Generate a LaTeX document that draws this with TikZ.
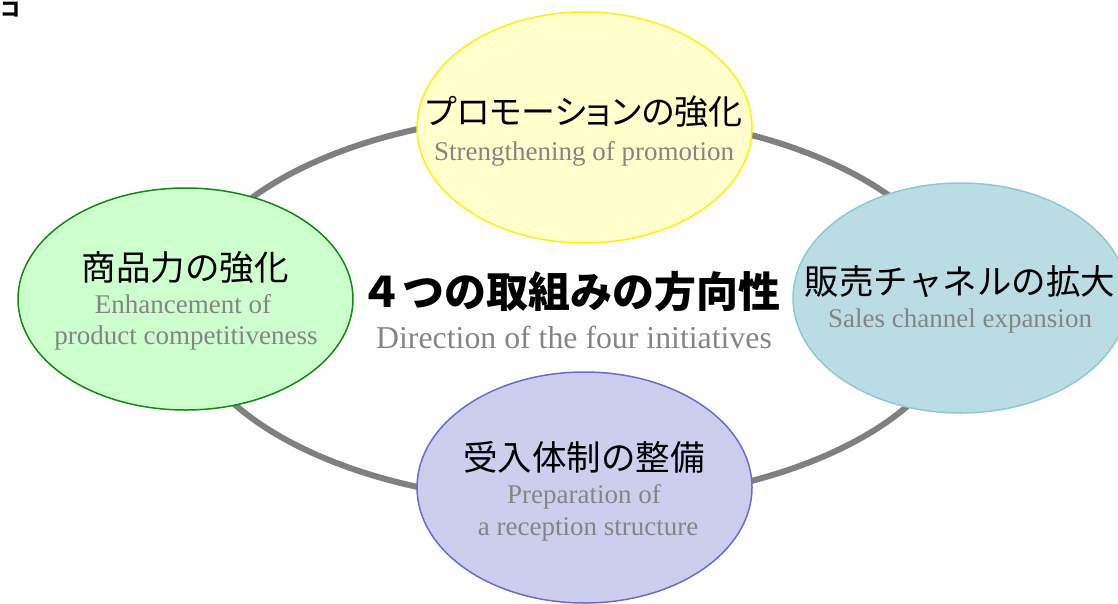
\documentclass[tikz,border=0pt]{standalone}
\usepackage{fontspec}
\usetikzlibrary{shapes.geometric}
\setmainfont{Liberation Serif}
\newfontfamily\jp{Noto Sans CJK JP}
\newfontfamily\jpp[RawFeature=+palt]{Noto Sans CJK JP}
\definecolor{ringgray}{HTML}{808080}
\definecolor{engray}{HTML}{858585}
\definecolor{yfill}{HTML}{FFFFCC}
\definecolor{yline}{HTML}{FFF200}
\definecolor{gfill}{HTML}{CCFFCC}
\definecolor{gline}{HTML}{108A10}
\definecolor{tfill}{HTML}{B9DDE2}
\definecolor{tline}{HTML}{8DCAD0}
\definecolor{lfill}{HTML}{CDCDEE}
\definecolor{lline}{HTML}{6B6BD0}
\begin{document}
\begin{tikzpicture}[x=1pt,y=-1pt,
  blob/.style={ellipse, inner sep=0pt, line width=1.5pt, minimum width=335pt},
  jptext/.style={font=\jp\fontsize{34.5}{40}\selectfont, text=black, inner sep=0pt},
  entext/.style={font=\fontsize{27}{31}\selectfont, text=engray, inner sep=0pt, anchor=base},
  ring/.style={ellipse, draw=ringgray, line width=6pt, minimum width=776pt, minimum height=390pt, inner sep=0pt}]
\clip (0,0) rectangle (1118,603);
\node[ring] (ring) at (572,308) {};
\node[blob, fill=yfill, draw=yline, minimum height=231pt] (promo) at (584.5,127.5) {};
\node[blob, fill=gfill, draw=gline, minimum height=222pt] (prod) at (185.5,299) {};
\node[blob, fill=tfill, draw=tline, minimum height=230pt] (sales) at (960.5,298) {};
\node[blob, fill=lfill, draw=lline, minimum height=231pt] (recv) at (584.5,487.5) {};
% top-left fragment
\node[font=\jp\bfseries\fontsize{20}{20}\selectfont, inner sep=0pt, anchor=west] (frag) at (0,10) {コ};
% texts
\node[jptext, font=\jpp\fontsize{34}{40}\selectfont] (promojp) at (584,112) {プロモーションの強化};
\node[entext] (promoen) at (584,160) {Strengthening of promotion};
\node[jptext] (prodjp) at (185,267) {商品力の強化};
\node[entext] (proden1) at (183,313) {Enhancement of};
\node[entext] (proden2) at (186,344) {product competitiveness};
\node[jptext] (salesjp) at (960,282) {販売チャネルの拡大};
\node[entext] (salesen) at (960,327) {Sales channel expansion};
\node[jptext] (recvjp) at (584,457) {受入体制の整備};
\node[entext] (recven1) at (584,503) {Preparation of};
\node[entext] (recven2) at (588,535) {a reception structure};
\node[font=\jp\bfseries\fontsize{42}{46}\selectfont, inner sep=0pt] (titlejp) at (570,292) {４つの取組みの方向性};
\node[entext, font=\fontsize{31.8}{36}\selectfont] (titleen) at (574,348) {Direction of the four initiatives};
\end{tikzpicture}
\end{document}
